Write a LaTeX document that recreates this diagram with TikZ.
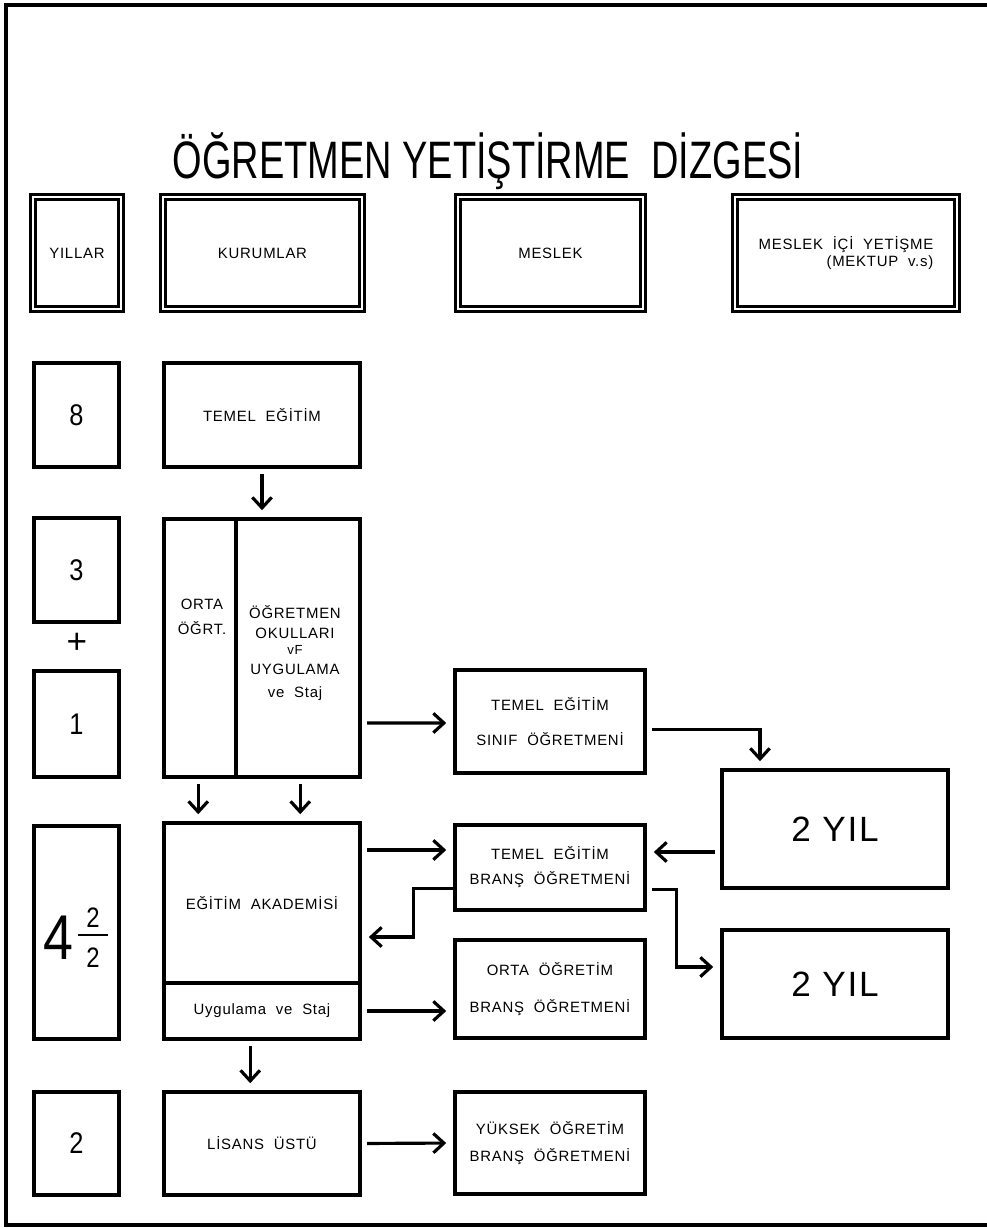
\documentclass[tikz,border=0pt]{standalone}
\usepackage{fontspec}
\setmainfont[LetterSpace=5]{Liberation Sans}
\newfontfamily\titlefont[FakeStretch=0.72]{Liberation Sans}
\newfontfamily\numfont[FakeStretch=0.85]{Liberation Sans}
\usetikzlibrary{arrows.meta}
\newlength{\px}
\setlength{\px}{0.02cm}
\tikzset{
  box/.style={draw,line width=2pt,inner sep=0pt,align=center,
    font=\fontsize{8.5}{11.3}\selectfont},
  headbox/.style={box,line width=1.5pt,double,double distance=1.6pt,
    minimum height=112\px},
  yearbox/.style={box,minimum width=85\px,
    font=\numfont\fontsize{17}{17}\selectfont},
  instbox/.style={box,minimum width=196\px},
  jobbox/.style={box,minimum width=190\px},
  yilbox/.style={box,minimum width=226\px,font=\fontsize{20}{20}\selectfont},
  txt/.style={inner sep=0pt,align=center,font=\fontsize{8.5}{11.3}\selectfont},
  digit/.style={inner sep=0pt,font=\numfont\fontsize{16}{16}\selectfont},
  arrow/.style={-{Straight Barb[length=6pt,width=11pt]},line width=1.8pt,
    shorten <=3pt,shorten >=4pt},
  frame/.style={line width=2pt}
}
\begin{document}
\begin{tikzpicture}[x=0.02cm,y=-0.02cm]
  \useasboundingbox (0,0) rectangle (987,1228);
  % outer frame
  \draw[frame] (987,5) -- (6,5) -- (6,1225) -- (987,1225);
  % title
  \node[font=\titlefont\fontsize{30}{30}\selectfont] (title) at (488,161)
    {ÖĞRETMEN YETİŞTİRME~ DİZGESİ};
  % header row
  \node[headbox,minimum width=88\px] (hYears) at (77,253) {YILLAR};
  \node[headbox,minimum width=199\px] (hInst) at (262.5,253) {KURUMLAR};
  \node[headbox,minimum width=185\px] (hJob) at (550.5,253) {MESLEK};
  \node[headbox,minimum width=222\px,align=right] (hInService) at (846,253)
    {MESLEK~ İÇİ~ YETİŞME\\[-2pt](MEKTUP~ v.s)};
  % years
  \node[yearbox,minimum height=104\px] (y8) at (76.5,415) {8};
  \node[yearbox,minimum height=104\px] (y3) at (76.5,570) {3};
  \node[font=\fontsize{20}{20}\selectfont] (plus) at (77,643) {+};
  \node[yearbox,minimum height=106\px] (y1) at (76.5,724) {1};
  \node[yearbox,minimum height=213\px] (y4) at (76.5,932.5) {};
  \node[font=\numfont\fontsize{36}{36}\selectfont] (four) at (58,938) {4};
  \node[digit] (halfTop) at (93,918) {2};
  \node[digit] (halfBot) at (93,958) {2};
  \draw[line width=1.1pt] ([shift={(-8,7)}]halfTop.south west)
    -- ([shift={(8,7)}]halfTop.south east);
  \node[yearbox,minimum height=103\px] (y2) at (76.5,1143.5) {2};
  % institutions
  \node[instbox,minimum height=104\px] (temel) at (262,415) {TEMEL~ EĞİTİM};
  \node[instbox,minimum height=258\px] (orta) at (262,648) {};
  \draw[line width=2pt] ([xshift=74\px]orta.north west) -- ([xshift=74\px]orta.south west);
  \node[txt] (ortaL) at (202,617) {ORTA\\[3pt]ÖĞRT.};
  \node[txt] (ortaR) at (295,653)
    {ÖĞRETMEN\\OKULLARI\\[-2pt]{\fontsize{7.5}{9}\selectfont vF}\\UYGULAMA\\[2pt]ve~ Staj};
  \node[instbox,minimum height=160\px] (akademi) at (262,903) {EĞİTİM~ AKADEMİSİ};
  \node[instbox,minimum height=56\px] (uyg) at (262,1011) {Uygulama~ ve~ Staj};
  \node[instbox,minimum height=103\px] (lisans) at (262,1143.5) {LİSANS~ ÜSTÜ};
  % professions
  \node[jobbox,minimum height=103\px] (sinif) at (550,721.5)
    {TEMEL~ EĞİTİM\\[9pt]SINIF~ ÖĞRETMENİ};
  \node[jobbox,minimum height=85\px] (brans1) at (550,867.5)
    {TEMEL~ EĞİTİM\\[3pt]BRANŞ~ ÖĞRETMENİ};
  \node[jobbox,minimum height=98\px] (brans2) at (550,989)
    {ORTA~ ÖĞRETİM\\[10pt]BRANŞ~ ÖĞRETMENİ};
  \node[jobbox,minimum height=102\px] (yuksek) at (550,1143)
    {YÜKSEK~ ÖĞRETİM\\[4pt]BRANŞ~ ÖĞRETMENİ};
  % two year blocks
  \node[yilbox,minimum height=118\px] (yil1) at (835,829) {2 YIL};
  \node[yilbox,minimum height=108\px] (yil2) at (835,984) {2 YIL};
  % connectors
  \draw[arrow] (temel.south) -- (orta.north);
  \draw[arrow] ([yshift=-75\px]orta.east) -- ([yshift=-1.5\px]sinif.west);
  \draw[arrow] ([yshift=-8\px]sinif.east) -| ([xshift=-75\px]yil1.north);
  \draw[arrow] ([xshift=36\px]orta.south west) -- ([xshift=36\px]akademi.north west);
  \draw[arrow] ([xshift=138\px]orta.south west) -- ([xshift=138\px]akademi.north west);
  \draw[arrow] ([yshift=53\px]akademi.east) -- ([yshift=17.5\px]brans1.west);
  \draw[arrow] ([yshift=-23\px]yil1.west) -- ([yshift=15.5\px]brans1.east);
  \draw[arrow,shorten <=0pt] ([yshift=-21\px]brans1.west) -- ++(-40,0)
    |- ([yshift=-34\px]akademi.east);
  \draw[arrow] ([yshift=-22\px]brans1.east) -- ++(30,0) |- ([yshift=17\px]yil2.west);
  \draw[arrow] (uyg.east) -- (uyg.east -| brans2.west);
  \draw[arrow] ([xshift=88\px]uyg.south west) -- ([xshift=88\px]lisans.north west);
  \draw[arrow] (lisans.east) -- (yuksek.west);
\end{tikzpicture}
\end{document}
